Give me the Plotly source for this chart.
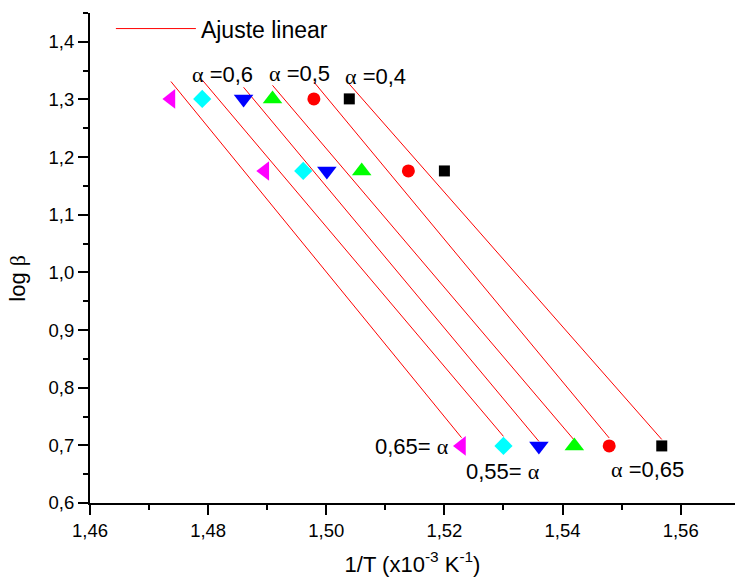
import numpy as np
import plotly.graph_objects as go

# log(beta) levels (heating rates 20, 15, 5 K/min)
log_beta = [1.301, 1.176, 0.699]

# 1/T (x10^-3 K^-1) for each conversion series, ordered as log_beta
x_black = [1.5039, 1.5200, 1.5568]    # squares
x_red = [1.4979, 1.5139, 1.5479]      # circles
x_green = [1.4909, 1.5060, 1.5420]    # up triangles
x_blue = [1.4860, 1.5001, 1.5360]     # down triangles
x_cyan = [1.4790, 1.4961, 1.5300]     # diamonds
x_magenta = [1.4737, 1.4896, 1.5229]  # left triangles

x_ticks = [1.46, 1.48, 1.50, 1.52, 1.54, 1.56]
x_ticklabels = ["1,46", "1,48", "1,50", "1,52", "1,54", "1,56"]
y_ticks = [0.6, 0.7, 0.8, 0.9, 1.0, 1.1, 1.2, 1.3, 1.4]
y_ticklabels = ["0,6", "0,7", "0,8", "0,9", "1,0", "1,1", "1,2", "1,3", "1,4"]

series = [
    (x_black, "black", "square", 11),
    (x_red, "#ff0000", "circle", 13),
    (x_green, "#00ff00", "triangle-up", 17),
    (x_blue, "#0000ff", "triangle-down", 17),
    (x_cyan, "#00ffff", "diamond", 14),
    (x_magenta, "#ff00ff", "triangle-left", 17),
]

SANS = "Liberation Sans, Arial, sans-serif"
SERIF = "Liberation Serif, Times New Roman, serif"

fig = go.Figure()

# linear fits drawn over each series' x range
first = True
for xs, color, sym, size in series:
    k, b = np.polyfit(xs, log_beta, 1)
    xl = np.array([min(xs), max(xs)])
    fig.add_trace(go.Scatter(
        x=xl, y=k * xl + b, mode="lines",
        line=dict(color="#ff0000", width=1),
        name="Ajuste linear", showlegend=first, legendgroup="fit",
    ))
    first = False

for xs, color, sym, size in series:
    fig.add_trace(go.Scatter(
        x=xs, y=log_beta, mode="markers",
        marker=dict(symbol=sym, color=color, size=size, line=dict(width=0)),
        showlegend=False,
    ))

a = f'<span style="font-family:{SERIF}">α</span>'
labels = [
    (1.4825, 1.343, f"{a} =0,6"),
    (1.4955, 1.3447, f"{a} =0,5"),
    (1.5083, 1.3394, f"{a} =0,4"),
    (1.5145, 0.6977, f"0,65= {a}"),
    (1.5299, 0.6548, f"0,55= {a}"),
    (1.5544, 0.6578, f"{a} =0,65"),
]
annotations = [
    dict(x=x, y=y, xref="x", yref="y", text=t, showarrow=False,
         font=dict(family=SANS, size=22, color="black"),
         xanchor="center", yanchor="middle")
    for x, y, t in labels
]
annotations.append(dict(
    x=-0.1116, y=0.4578, xref="paper", yref="paper",
    text=f'log <span style="font-family:{SERIF}">β</span>',
    textangle=-90, showarrow=False,
    font=dict(family=SANS, size=22, color="black"),
    xanchor="center", yanchor="middle"))

axis_common = dict(
    showline=True, linecolor="black", linewidth=2,
    ticks="outside", ticklen=10, tickwidth=2, tickcolor="black",
    showgrid=False, zeroline=False,
    tickfont=dict(family=SANS, size=18.5, color="black"),
)

fig.update_layout(
    width=735, height=584,
    margin=dict(l=90, r=0, t=13, b=81),
    paper_bgcolor="white", plot_bgcolor="white",
    xaxis=dict(
        range=[1.46, 1.5692], tickvals=x_ticks, ticktext=x_ticklabels,
        minor=dict(dtick=0.01, ticks="outside", ticklen=5, tickwidth=2,
                   tickcolor="black", showgrid=False),
        title=dict(text="1/T (x10<sup>-3</sup> K<sup>-1</sup>)",
                   font=dict(family=SANS, size=22, color="black"), standoff=16),
        **axis_common,
    ),
    yaxis=dict(
        range=[0.6, 1.45], tickvals=y_ticks, ticktext=y_ticklabels,
        minor=dict(dtick=0.05, tick0=0.6, ticks="outside", ticklen=5, tickwidth=2,
                   tickcolor="black", showgrid=False),
        **axis_common,
    ),
    legend=dict(
        x=0.0324, y=1.012, xanchor="left", yanchor="top",
        font=dict(family=SANS, size=23, color="black"),
        bgcolor="rgba(0,0,0,0)", itemwidth=80,
    ),
    annotations=annotations,
)

fig.write_html("out.html")
